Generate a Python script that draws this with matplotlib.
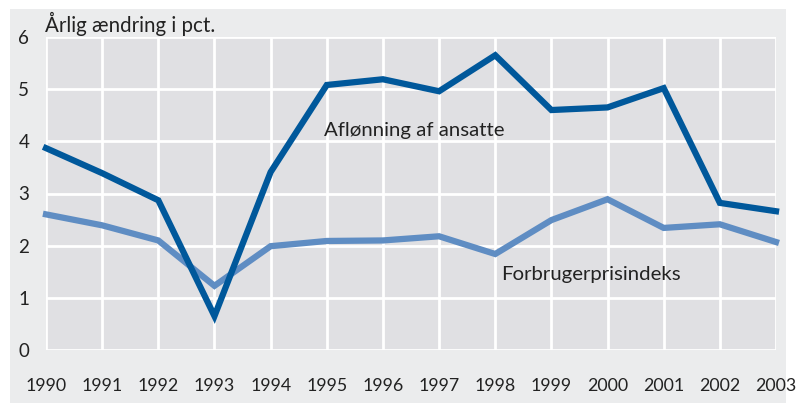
import matplotlib.pyplot as plt
from matplotlib.patches import Rectangle
from matplotlib import font_manager

years = list(range(1990, 2004))
aflonning = [3.87, 3.39, 2.87, 0.65, 3.41, 5.08, 5.19, 4.96, 5.65, 4.60, 4.65, 5.02, 2.82, 2.66]
forbruger = [2.60, 2.39, 2.10, 1.23, 1.99, 2.09, 2.10, 2.18, 1.84, 2.49, 2.89, 2.34, 2.41, 2.07]
yticks = [0, 1, 2, 3, 4, 5, 6]

names = sorted({f.name for f in font_manager.fontManager.ttflist})
fam = 'Liberation Sans Narrow' if 'Liberation Sans Narrow' in names else 'Lato'
plt.rcParams['font.family'] = [fam, 'DejaVu Sans']

W, H = 796, 403
fig = plt.figure(figsize=(W/100, H/100), dpi=100)
fig.patch.set_facecolor('white')
# grey panel behind the chart
fig.patches.append(Rectangle((10/W, 0), 776/W, 394/H, transform=fig.transFigure,
                             facecolor='#ebeced', edgecolor='none', zorder=-10))

ax = fig.add_axes([46/W, (H-350)/H, 730/W, 313/H])
ax.set_facecolor('#e0e0e3')
ax.set_xlim(1990, 2003)
ax.set_ylim(0, 6)
ax.set_xticks(years)
ax.set_yticks(yticks)
ax.grid(True, color='white', linewidth=2)
ax.set_axisbelow(True)
for s in ax.spines.values():
    s.set_visible(False)
ax.tick_params(length=0, labelsize=12.8, colors='#222222')
ax.tick_params(axis='y', labelsize=13.5, pad=12)
ax.tick_params(axis='x', pad=20)

ax.plot(years, forbruger, color='#5f8dc3', linewidth=4.5, solid_joinstyle='miter', clip_on=False)
ax.plot(years, aflonning, color='#00589b', linewidth=4.5, solid_joinstyle='miter', clip_on=False)

ax.text(1994.95, 4.2, 'Aflønning af ansatte', fontsize=14.7, color='#222222', va='center')
ax.text(1998.1, 1.45, 'Forbrugerprisindeks', fontsize=14.7, color='#222222', va='center')
fig.text(45/W, 1-24/H, 'Årlig ændring i pct.', fontsize=14.8, color='#222222', va='center')

fig.savefig('out.png', dpi=100, facecolor=fig.get_facecolor())
